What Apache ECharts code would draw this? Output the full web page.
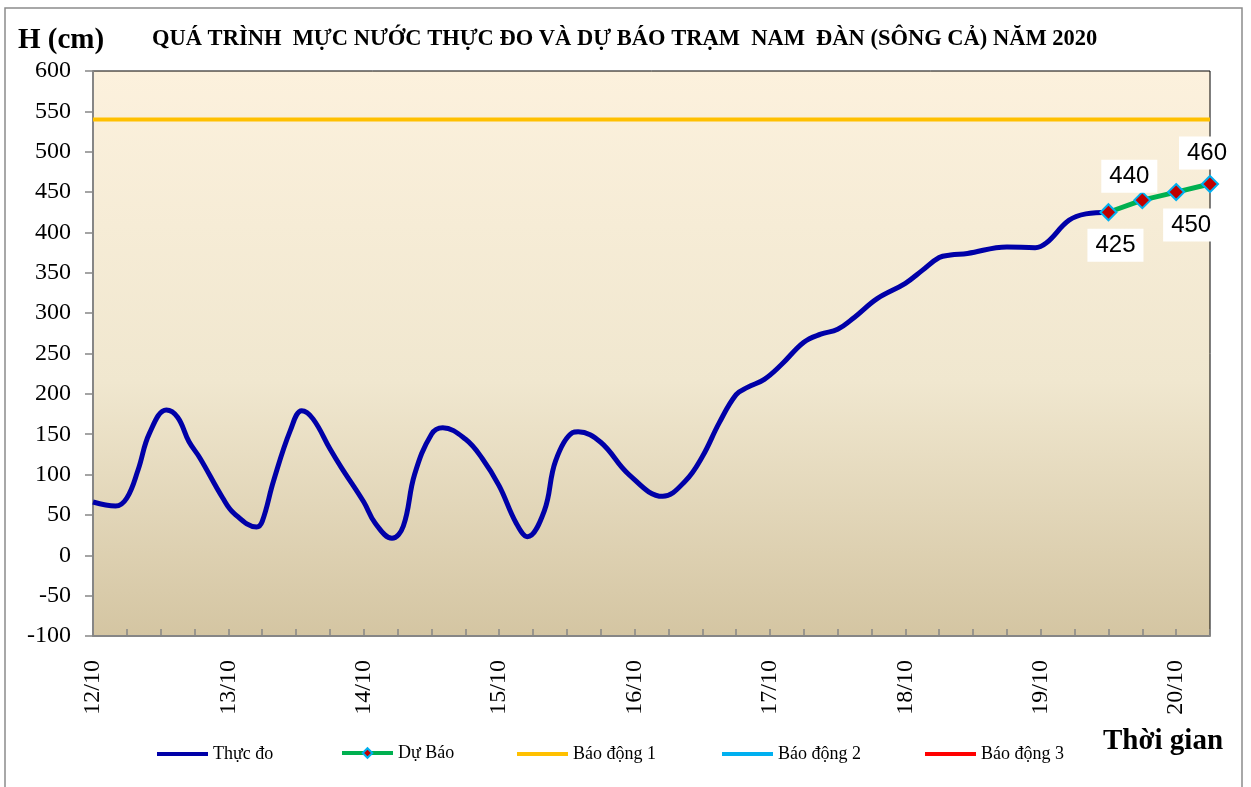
<!DOCTYPE html>
<html>
<head>
<meta charset="utf-8">
<title>Mực nước trạm Nam Đàn</title>
<script src="https://cdn.jsdelivr.net/npm/echarts@6/dist/echarts.min.js"></script>
<style>
  html, body { margin: 0; padding: 0; background: #fff; }
  #main { width: 1251px; height: 787px; }
</style>
</head>
<body>
<div id="main"></div>
<script>
// giờ tính từ 00h ngày 12/10
var obsHours = [0, 4, 6, 8, 10, 13, 15, 17, 19, 23, 25, 29, 30, 32, 35, 37, 39, 42, 44, 48,
  50, 53, 55, 57, 60, 62, 66, 69, 72, 75, 77, 80, 82, 85, 86, 90, 95, 101, 105, 108,
  111, 114, 116, 119, 122, 126, 129, 132, 135, 139, 144, 147, 150, 152, 155, 162, 167, 169, 173, 176, 180];
var obsLevels = [66, 61, 71, 106, 151, 180, 171, 141, 120, 71, 52, 35, 42, 92, 155, 179, 169, 132, 109, 66,
  40, 21, 36, 100, 150, 158, 144, 120, 86, 40, 23, 55, 117, 152, 153, 140, 100, 73, 92, 122,
  164, 199, 208, 218, 236, 264, 274, 280, 295, 318, 337, 353, 369, 372, 374, 382, 381, 387, 415, 423, 425];

var fcHours = [180, 186, 192, 198];
var fcLevels = [425, 440, 450, 460];

var dayLabels = ["12/10", "13/10", "14/10", "15/10", "16/10", "17/10", "18/10", "19/10", "20/10"];

var alarmNames = ["Báo động 1", "Báo động 2", "Báo động 3"];
var alarmLevels = [540, 690, 790];

// vị trí nhãn số liệu dự báo (px)
var fcLabelOffsets = [[7, 33], [-13, -24], [15, 33], [-3, -31]];
var alarmColors = ["#FFC000", "#00B0F0", "#FF0000"];

var serif = "'Liberation Serif', 'Times New Roman', serif";

var obsData = obsHours.map(function (h, i) { return [h, obsLevels[i]]; });
var fcData = fcHours.map(function (h, i) {
  return {
    value: [h, fcLevels[i]],
    label: { offset: fcLabelOffsets[i] }
  };
});

var series = [
  {
    name: "Thực đo",
    type: "line",
    data: obsData,
    smooth: 0.4,
    symbol: "none",
    lineStyle: { color: "#0000A8", width: 5 },
    itemStyle: { color: "#0000A8" },
    z: 3
  },
  {
    name: "Dự Báo",
    type: "line",
    data: fcData,
    symbol: "diamond",
    symbolSize: 16,
    lineStyle: { color: "#00B050", width: 5 },
    itemStyle: { color: "#C00000", borderColor: "#00B0F0", borderWidth: 2 },
    label: {
      show: true,
      position: "inside",
      fontFamily: "'Liberation Sans', Arial, sans-serif",
      fontSize: 24,
      color: "#000",
      backgroundColor: "#fff",
      padding: [5, 8, 4, 8]
    },
    z: 4
  }
];
alarmNames.forEach(function (name, i) {
  series.push({
    name: name,
    type: "line",
    data: [[0, alarmLevels[i]], [198, alarmLevels[i]]],
    symbol: "none",
    lineStyle: { color: alarmColors[i], width: 4 },
    itemStyle: { color: alarmColors[i] },
    z: 2
  });
});

// mỗi mục chú giải một legend riêng để đặt đúng vị trí
var legendNames = ["Thực đo", "Dự Báo"].concat(alarmNames);
var legendLeft = [157, 340, 517, 722, 925];
var legends = legendNames.map(function (name, i) {
  var isFc = name === "Dự Báo";
  return {
    data: [isFc ? name : { name: name, icon: "rect" }],
    left: legendLeft[i],
    top: isFc ? 744 : 745,
    itemWidth: 51,
    itemHeight: isFc ? 12 : 4,
    itemGap: 0,
    padding: 0,
    lineStyle: { width: 4 },
    textStyle: { fontFamily: serif, fontSize: 18, color: "#000" }
  };
});

var chartOption = {
  animation: false,
  backgroundColor: "#fff",
  title: {
    text: "QUÁ TRÌNH  MỰC NƯỚC THỰC ĐO VÀ DỰ BÁO TRẠM  NAM  ĐÀN (SÔNG CẢ) NĂM 2020",
    left: 152,
    top: 28,
    padding: 0,
    textStyle: { fontFamily: serif, fontSize: 22.5, fontWeight: "bold", color: "#000" }
  },
  legend: legends,
  grid: {
    left: 93,
    right: 41,
    top: 71,
    bottom: 151,
    show: true,
    borderColor: "#000",
    borderWidth: 1,
    backgroundColor: new echarts.graphic.LinearGradient(0, 0, 0, 1, [
      { offset: 0, color: "#FCF1DD" },
      { offset: 0.55, color: "#F0E7CF" },
      { offset: 1, color: "#D4C5A2" }
    ])
  },
  xAxis: {
    type: "value",
    min: 0,
    max: 198,
    interval: 6,
    axisLine: { onZero: false, lineStyle: { color: "#868686", width: 2 } },
    axisTick: { inside: true, length: 7, lineStyle: { color: "#868686", width: 1.5 } },
    splitLine: { show: false },
    axisLabel: {
      rotate: 90,
      margin: 24,
      fontFamily: serif,
      fontSize: 24,
      color: "#000",
      formatter: function (v) {
        return v % 24 === 0 ? dayLabels[v / 24] : "";
      }
    }
  },
  yAxis: {
    type: "value",
    min: -100,
    max: 600,
    interval: 50,
    axisLine: { show: true, lineStyle: { color: "#868686", width: 2 } },
    axisTick: { show: true, length: 8, lineStyle: { color: "#868686", width: 1.5 } },
    splitLine: { show: false },
    axisLabel: { margin: 22, fontFamily: serif, fontSize: 24, color: "#000" }
  },
  graphic: [
    {
      type: "rect",
      shape: { x: 5, y: 8, width: 1237, height: 800 },
      style: { fill: "none", stroke: "#8c8c8c", lineWidth: 1.5 },
      silent: true
    },
    {
      type: "text",
      left: 18,
      top: 26,
      style: { text: "H (cm)", font: "bold 29px " + serif, fill: "#000" }
    },
    {
      type: "text",
      left: 1103,
      top: 727,
      style: { text: "Thời gian", font: "bold 29px " + serif, fill: "#000" }
    }
  ],
  series: series
};

var myChart = echarts.init(document.getElementById("main"));
myChart.setOption(chartOption);
</script>
</body>
</html>
